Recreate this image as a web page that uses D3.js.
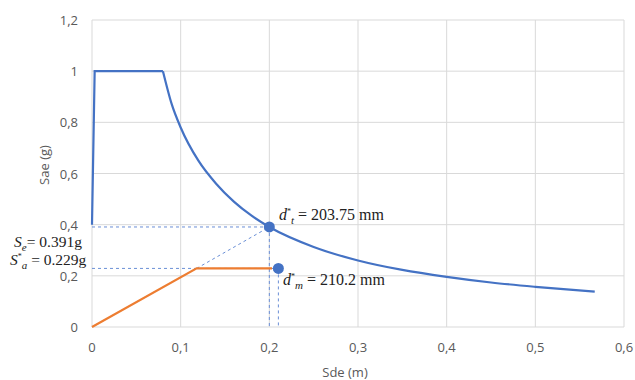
<!DOCTYPE html>
<html>
<head>
<meta charset="utf-8">
<script src="https://cdn.jsdelivr.net/npm/d3@7"></script>
<style>
body{margin:0;background:#fff;}
svg text{font-family:"Open Sans","Noto Sans",sans-serif;}
.serif{font-family:"Liberation Serif","DejaVu Serif",serif;}
</style>
</head>
<body>
<div id="chart"></div>
<script>
"use strict";

// elastic spectrum Sae vs Sde
let spectrumSd = [0,0.003,0.08,0.09,0.1,0.12,0.14,0.16,0.18,0.2,0.25,0.3,0.35,0.4,0.45,0.5,0.567];
let spectrumSa = [0.4,1,1,0.87,0.78,0.65,0.56,0.49,0.435,0.391,0.313,0.26,0.223,0.196,0.174,0.157,0.138];

// bilinear capacity curve
let capSd = [0,0.118,0.203];
let capSa = [0,0.229,0.229];

// target points
let pointSd = [0.2,0.2102];
let pointSa = [0.391,0.229];

let xTicks = [0,0.1,0.2,0.3,0.4,0.5,0.6];
let yTicks = [0,0.2,0.4,0.6,0.8,1,1.2];

let svg = d3.select("#chart")
.append("svg")
.attr("width",635)
.attr("height",380);

let xScale = d3.scaleLinear()
.domain([0,0.6])
.range([92,624]);

let yScale = d3.scaleLinear()
.domain([0,1.2])
.range([327,20]);

let fmt = function(d){ return String(d).replace(".",","); };

// gridlines
svg.selectAll("line.gx")
.data(xTicks)
.join("line")
.attr("x1",d=>xScale(d)).attr("x2",d=>xScale(d))
.attr("y1",yScale(0)).attr("y2",yScale(1.2))
.attr("stroke","#d9d9d9").attr("stroke-width",1);

svg.selectAll("line.gy")
.data(yTicks)
.join("line")
.attr("x1",xScale(0)).attr("x2",xScale(0.6))
.attr("y1",d=>yScale(d)).attr("y2",d=>yScale(d))
.attr("stroke","#d9d9d9").attr("stroke-width",1);

// tick labels
svg.selectAll("text.xt")
.data(xTicks)
.join("text")
.attr("x",d=>xScale(d))
.attr("y",352)
.attr("text-anchor","middle")
.attr("font-size",13)
.attr("fill","#595959")
.text(fmt);

svg.selectAll("text.yt")
.data(yTicks)
.join("text")
.attr("x",78)
.attr("y",d=>yScale(d)+5)
.attr("text-anchor","end")
.attr("font-size",13)
.attr("fill","#595959")
.text(fmt);

// axis titles
svg.append("text")
.attr("x",345)
.attr("y",377)
.attr("text-anchor","middle")
.attr("font-size",13)
.attr("fill","#595959")
.text("Sde (m)");

svg.append("text")
.attr("transform","rotate(-90)")
.attr("x",-165)
.attr("y",49)
.attr("text-anchor","middle")
.attr("font-size",13)
.attr("fill","#595959")
.text("Sae (g)");

// dashed guide lines
let dash = "3,3";
let guides = [
 [0,pointSa[0],pointSd[0],pointSa[0]],
 [pointSd[0],pointSa[0],pointSd[0],0],
 [0,pointSa[1],pointSd[1],pointSa[1]],
 [pointSd[1],pointSa[1],pointSd[1],0],
 [capSd[1],capSa[1],pointSd[0],pointSa[0]]
];
svg.selectAll("line.guide")
.data(guides)
.join("line")
.attr("x1",d=>xScale(d[0])).attr("y1",d=>yScale(d[1]))
.attr("x2",d=>xScale(d[2])).attr("y2",d=>yScale(d[3]))
.attr("stroke","#6a8fd6")
.attr("stroke-width",1)
.attr("stroke-dasharray",dash);

// spectrum line
let specData = spectrumSd.map((d,i)=>[d,spectrumSa[i]]);
let lineGen = d3.line()
.x(d=>xScale(d[0]))
.y(d=>yScale(d[1]));

svg.append("path")
.datum(specData.slice(0,3))
.attr("d",lineGen)
.attr("fill","none")
.attr("stroke","#4472c4")
.attr("stroke-width",2.2);

svg.append("path")
.datum(specData.slice(2))
.attr("d",lineGen.curve(d3.curveMonotoneX))
.attr("fill","none")
.attr("stroke","#4472c4")
.attr("stroke-width",2.2);

// capacity curve
let capData = capSd.map((d,i)=>[d,capSa[i]]);
svg.append("path")
.datum(capData)
.attr("d",d3.line().x(d=>xScale(d[0])).y(d=>yScale(d[1])))
.attr("fill","none")
.attr("stroke","#ed7d31")
.attr("stroke-width",2.2);

// points
svg.selectAll("circle")
.data(pointSd)
.join("circle")
.attr("cx",d=>xScale(d))
.attr("cy",(d,i)=>yScale(pointSa[i]))
.attr("r",5.5)
.attr("fill","#4472c4");

// annotations
function label(x,y,base,sup,sub,rest,size){
 let t = svg.append("text")
 .attr("class","serif")
 .attr("x",x).attr("y",y)
 .attr("font-size",size)
 .attr("fill","#222");
 t.append("tspan").attr("font-style","italic").text(base);
 if(sup){
  t.append("tspan").attr("font-size",8).attr("dy",-6).text(sup);
  t.append("tspan").attr("font-size",11).attr("font-style","italic").attr("dy",10).text(sub);
  t.append("tspan").attr("dy",-4).text(rest);
 } else {
  t.append("tspan").attr("font-size",11).attr("font-style","italic").attr("dy",4).text(sub);
  t.append("tspan").attr("dy",-4).text(rest);
 }
}

label(279,220,"d","*","t"," = 203.75 mm",16);
label(283,285,"d","*","m"," = 210.2 mm",16);
label(14,247,"S",null,"e","= 0.391g",15.5);
label(10,265,"S","*","a"," = 0.229g",15.5);
</script>
</body>
</html>
